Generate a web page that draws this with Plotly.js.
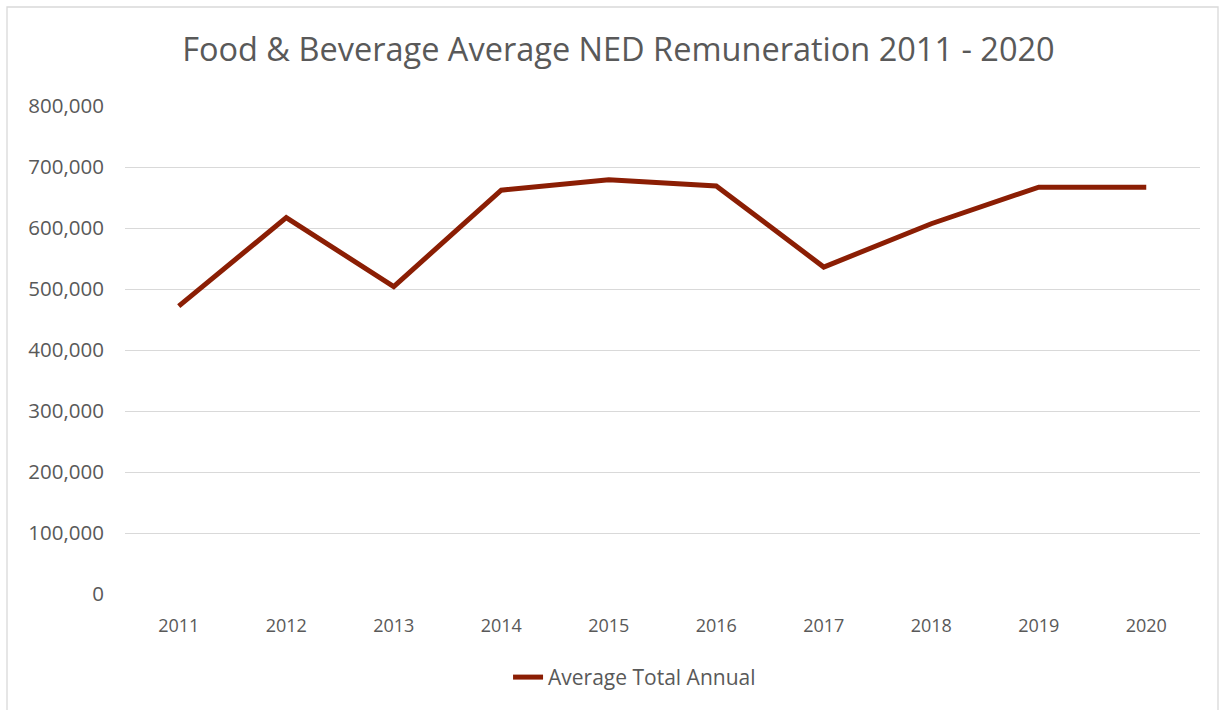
<!DOCTYPE html>
<html>
<head>
<meta charset="utf-8">
<script src="https://cdn.plot.ly/plotly-3.0.1.min.js"></script>
<style>
  html, body { margin: 0; padding: 0; background: #ffffff; }
  #chart { width: 1225px; height: 710px; }
</style>
</head>
<body>
<div id="chart"></div>
<script>
const years = ["2011", "2012", "2013", "2014", "2015", "2016", "2017", "2018", "2019", "2020"];
const averageTotalAnnual = [472000, 617000, 504000, 662000, 679000, 669000, 536000, 607000, 667000, 667000];
const yTickValues = [0, 100000, 200000, 300000, 400000, 500000, 600000, 700000, 800000];
const yTickLabels = ["0", "100,000", "200,000", "300,000", "400,000", "500,000", "600,000", "700,000", "800,000"];
const seriesName = "Average Total Annual";
const chartTitle = "Food & Beverage Average NED Remuneration 2011 - 2020";

const textColor = "#595959";
const fontFamily = "'Open Sans', 'Noto Sans', sans-serif";

const trace = {
  x: years,
  y: averageTotalAnnual,
  type: "scatter",
  mode: "lines",
  name: seriesName,
  line: { color: "#8B1E04", width: 5, shape: "linear" },
  hoverinfo: "x+y"
};

const layout = {
  width: 1225,
  height: 710,
  paper_bgcolor: "#ffffff",
  plot_bgcolor: "#ffffff",
  margin: { l: 125, r: 25, t: 106, b: 116 },
  font: { family: fontFamily, color: textColor, size: 18 },
  title: {
    text: chartTitle,
    font: { family: fontFamily, size: 32.5, color: textColor },
    x: 0.459,
    xanchor: "center",
    y: 0.93,
    yanchor: "middle",
    xref: "paper"
  },
  xaxis: {
    type: "category",
    range: [-0.5, 9.5],
    showgrid: false,
    zeroline: false,
    showline: false,
    ticks: "",
    ticklabelstandoff: 19,
    tickfont: { family: fontFamily, size: 18, color: textColor },
    fixedrange: true
  },
  yaxis: {
    range: [0, 800000],
    tickvals: yTickValues,
    ticktext: yTickLabels,
    showgrid: true,
    gridcolor: "#D9D9D9",
    gridwidth: 1.3,
    zeroline: false,
    showline: false,
    ticks: "",
    ticklabelstandoff: 20,
    tickfont: { family: fontFamily, size: 20.5, color: textColor },
    fixedrange: true
  },
  showlegend: true,
  legend: {
    orientation: "h",
    x: 0.474,
    xanchor: "center",
    y: -0.171,
    yanchor: "middle",
    font: { family: fontFamily, size: 21, color: textColor },
    itemwidth: 30,
    bgcolor: "rgba(0,0,0,0)"
  },
  shapes: [
    {
      type: "rect",
      xref: "paper", yref: "paper",
      x0: (7 - 125) / 1075, x1: (1218 - 125) / 1075,
      y0: (594 - 720) / 488, y1: (594 - 7) / 488,
      line: { color: "#D9D9D9", width: 1.3 },
      fillcolor: "rgba(0,0,0,0)",
      layer: "below"
    }
  ]
};

Plotly.newPlot("chart", [trace], layout, { displayModeBar: false, staticPlot: false });
</script>
</body>
</html>
